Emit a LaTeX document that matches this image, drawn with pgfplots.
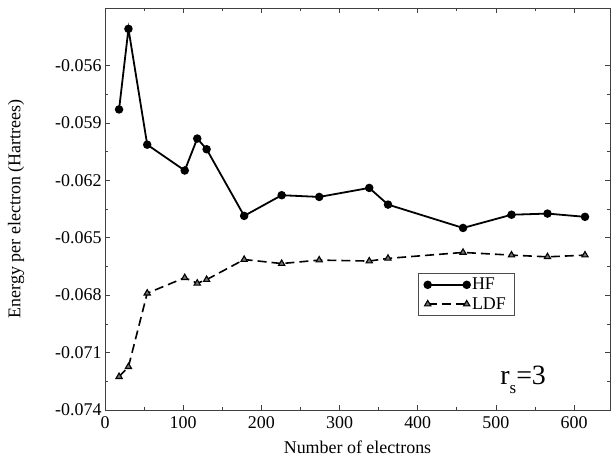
\documentclass[border=0pt]{standalone}
\usepackage{pgfplots}
\pgfplotsset{compat=1.18}
\usepackage{fontspec}
\setmainfont{Liberation Serif}
\begin{document}
\begin{tikzpicture}[x=1bp,y=1bp]
\path[use as bounding box] (0,0) rectangle (611,458);
\begin{axis}[
  at={(105bp,48bp)}, anchor=south west,
  scale only axis, width=505bp, height=402bp,
  xmin=0, xmax=646, ymin=-0.074, ymax=-0.053,
  xtick={0,100,...,600},
  ytick={-0.074,-0.071,-0.068,-0.065,-0.062,-0.059,-0.056},
  minor x tick num=1, minor y tick num=1,
  scaled y ticks=false,
  y tick label style={/pgf/number format/.cd, fixed, fixed zerofill, precision=3, assume math mode=true},
  x tick label style={/pgf/number format/assume math mode=true, yshift=-3bp},
  tick label style={font=\fontsize{18}{21}\selectfont},
  label style={font=\fontsize{18}{21}\selectfont},
  xlabel={Number of electrons},
  ylabel={Energy per electron (Hartrees)},
  xlabel style={yshift=-5bp},
  ylabel style={yshift=24bp},
  major tick length=5bp, minor tick length=3bp,
  axis line style={black!75, line width=0.8bp},
  tick style={black!75, line width=0.6bp},
  legend style={at={(0.62,0.341)}, anchor=north west, draw=black!70, line width=0.6bp,
    font=\fontsize{18}{21}\selectfont, inner xsep=6bp, inner ysep=3bp, row sep=2bp, cells={anchor=west}},
  legend image code/.code={\draw[mark repeat=1,mark phase=1,#1] plot coordinates {(0bp,0bp) (39bp,0bp)};},
]
\addplot[black, line width=1.8bp, mark=*, mark size=3.3bp, mark options={solid}] coordinates {
(18,-0.05830) (30,-0.05409) (54,-0.06014) (102,-0.06149) (118,-0.05982) (130,-0.06038)
(178,-0.06386) (226,-0.06278) (274,-0.06287) (338,-0.06240) (362,-0.06327) (458,-0.06449)
(520,-0.06380) (566,-0.06374) (614,-0.06391)};
\addlegendentry{HF}
\addplot[black, line width=1.6bp, dash pattern=on 9bp off 5bp, mark=triangle*, mark size=3.6bp, mark options={solid, fill=black!55, line width=1.1bp}] coordinates {
(18,-0.07226) (30,-0.07174) (54,-0.06790) (102,-0.06709) (118,-0.06738) (130,-0.06719)
(178,-0.06614) (226,-0.06635) (274,-0.06617) (338,-0.06622) (362,-0.06608) (458,-0.06577)
(520,-0.06591) (566,-0.06600) (614,-0.06591)};
\addlegendentry{LDF}
\node[anchor=center, font=\fontsize{28}{33}\selectfont] at (rel axis cs:0.828,0.075) {r\raisebox{-0.32em}{\fontsize{17}{17}\selectfont s}=3};
\end{axis}
\end{tikzpicture}
\end{document}
